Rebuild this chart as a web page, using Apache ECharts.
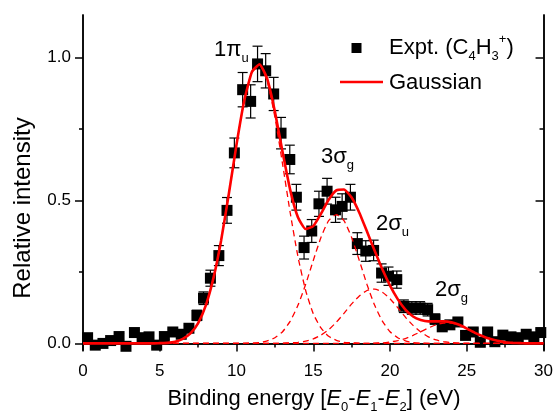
<!DOCTYPE html>
<html><head><meta charset="utf-8">
<script src="https://cdn.jsdelivr.net/npm/echarts@6/dist/echarts.min.js"></script>
<style>html,body{margin:0;padding:0;background:#fff}#c{width:556px;height:412px}</style>
</head><body><div id="c"></div>
<script>
// ---- data ----
const exptX = [0.3,0.8,1.3,1.8,2.35,2.8,3.35,3.85,4.3,4.8,5.3,5.85,6.4,6.9,7.42,7.85,8.3,8.85,9.38,9.86,10.4,10.92,11.37,11.9,12.42,12.9,13.47,13.9,14.4,14.9,15.37,15.9,16.45,16.88,17.42,17.87,18.42,18.93,19.45,19.9,20.44,20.9,21.42,21.96,22.45,22.93,23.4,23.9,24.42,24.92,25.42,25.88,26.36,26.83,27.35,27.88,28.35,28.87,29.37,29.82];
const exptY = [0.02,-0.006,0.0,0.01,0.024,-0.01,0.038,0.02,0.023,-0.006,0.024,0.04,0.032,0.053,0.098,0.158,0.228,0.307,0.465,0.666,0.887,0.846,0.977,0.953,0.872,0.735,0.643,0.511,0.335,0.393,0.488,0.532,0.467,0.479,0.511,0.349,0.323,0.325,0.246,0.235,0.223,0.13,0.124,0.124,0.118,0.085,0.058,0.065,0.075,0.028,0.04,0.004,0.04,0.006,0.029,0.023,0.02,0.032,0.023,0.038];
const exptErr = [0.01,0.01,0.01,0.01,0.01,0.01,0.01,0.01,0.01,0.01,0.01,0.01,0.01,0.01,0.018,0.022,0.028,0.035,0.045,0.052,0.06,0.058,0.062,0.06,0.058,0.055,0.05,0.045,0.04,0.04,0.044,0.045,0.044,0.044,0.045,0.038,0.036,0.036,0.032,0.032,0.03,0.022,0.022,0.022,0.022,0.018,0.012,0.012,0.012,0.012,0.012,0.012,0.012,0.012,0.012,0.012,0.012,0.012,0.012,0.012];

const fitX = [0,0.5,1,1.5,2,2.5,3,3.5,4,4.5,5,5.5,6,6.5,7,7.5,8,8.5,9,9.5,10,10.5,11,11.5,12,12.5,13,13.5,14,14.5,15,15.5,16,16.5,17,17.5,18,18.5,19,19.5,20,20.5,21,21.5,22,22.5,23,23.5,24,24.5,25,25.5,26,26.5,27,27.5,28,28.5,29,29.5,30];
const fitTotal = [0,0,0,0,0,0,0,0,0,0,0.001,0.002,0.006,0.016,0.035,0.071,0.133,0.229,0.361,0.523,0.695,0.848,0.949,0.976,0.925,0.811,0.669,0.536,0.441,0.400,0.410,0.453,0.502,0.535,0.538,0.510,0.457,0.391,0.324,0.259,0.202,0.155,0.118,0.094,0.082,0.077,0.077,0.077,0.074,0.065,0.052,0.038,0.026,0.016,0.009,0.004,0.002,0.001,0,0,0];
const fit1PiU = [0,0,0,0,0,0,0,0,0,0,0.001,0.002,0.006,0.016,0.035,0.071,0.133,0.229,0.361,0.523,0.695,0.848,0.948,0.973,0.916,0.791,0.627,0.456,0.304,0.186,0.104,0.054,0.025,0.011,0.004,0.002,0.001,0,0,0,0,0,0,0,0,0,0,0,0,0,0,0,0,0,0,0,0,0,0,0,0];
const fit3SigG = [0,0,0,0,0,0,0,0,0,0,0,0,0,0,0,0,0,0,0,0,0,0,0.001,0.003,0.009,0.020,0.041,0.078,0.133,0.206,0.290,0.370,0.429,0.450,0.429,0.370,0.290,0.206,0.133,0.078,0.041,0.020,0.009,0.003,0.001,0,0,0,0,0,0,0,0,0,0,0,0,0,0,0,0];
const fit2SigU = [0,0,0,0,0,0,0,0,0,0,0,0,0,0,0,0,0,0,0,0,0,0,0,0,0,0,0.001,0.002,0.004,0.008,0.016,0.029,0.048,0.074,0.105,0.138,0.166,0.185,0.190,0.179,0.156,0.125,0.092,0.063,0.040,0.023,0.012,0.006,0.003,0.001,0,0,0,0,0,0,0,0,0,0,0];
const fit2SigG = [0,0,0,0,0,0,0,0,0,0,0,0,0,0,0,0,0,0,0,0,0,0,0,0,0,0,0,0,0,0,0,0,0,0,0,0,0,0,0.001,0.002,0.005,0.010,0.017,0.028,0.041,0.054,0.065,0.071,0.071,0.064,0.052,0.038,0.026,0.016,0.009,0.004,0.002,0.001,0,0,0];

const xTickValues = [0,5,10,15,20,25,30];
const xTickLabels = ['0','5','10','15','20','25','30'];
const yTickValues = [0,0.5,1.0];
const yTickLabels = ['0.0','0.5','1.0'];
const yMinorTickValues = [0.25,0.75];

// ---- chart ----
const FONT = '"Liberation Sans", Arial, Helvetica, sans-serif';
const chart = echarts.init(document.getElementById('c'), null, {renderer:'canvas'});
const pairs = (xs, ys) => xs.map((x, i) => [x, ys[i]]);
const errData = exptX.map((x, i) => [x, exptY[i], exptErr[i]]);
const YMIN = -0.023, YMAX = 1.148;

const lineAx = {show:true, lineStyle:{color:'#000', width:1.5}};
function xAx(pos, inside) {
  return {type:'value', position:pos, min:0, max:30, interval:5,
    axisLine:lineAx,
    axisTick:{show:true, inside:inside, length:8, lineStyle:{color:'#000', width:1.5}},
    minorTick:{show:true, splitNumber:2, length:4, lineStyle:{color:'#000', width:1.5}},
    splitLine:{show:false}, minorSplitLine:{show:false},
    axisLabel:{show:pos==='bottom', fontSize:17, color:'#000', fontFamily:FONT, margin:13,
      formatter:v => { const k = xTickValues.indexOf(v); return k >= 0 ? xTickLabels[k] : ''; }}
  };
}
function yAx(pos, inside, values, len, labels) {
  return {type:'value', position:pos, min:YMIN, max:YMAX,
    axisLine:lineAx,
    axisTick:{show:true, inside:inside, length:len, customValues:values, lineStyle:{color:'#000', width:1.5}},
    splitLine:{show:false},
    axisLabel:{show:labels, customValues:yTickValues, fontSize:17, color:'#000', fontFamily:FONT, margin:12,
      formatter:v => { const k = yTickValues.findIndex(t => Math.abs(t - v) < 1e-9); return k >= 0 ? yTickLabels[k] : ''; }}
  };
}

const richBase = {
  n:{fontSize:22, lineHeight:30, fontFamily:FONT, fill:'#000'},
  i:{fontSize:22, lineHeight:30, fontFamily:FONT, fontStyle:'italic', fill:'#000'},
  s:{fontSize:13, lineHeight:10, fontFamily:FONT, verticalAlign:'bottom', fill:'#000'},
  p:{fontSize:13, lineHeight:24, fontFamily:FONT, verticalAlign:'top', fill:'#000'}
};
function rtext(x, y, text, align) {
  return {type:'text', x:x, y:y, z:100, style:{text:text, rich:richBase, align:align||'left', textAlign:align||'left', verticalAlign:'top', textVerticalAlign:'top', fill:'#000', font:'22px ' + FONT}};
}

const option = {
  animation:false,
  backgroundColor:'#fff',
  grid:{left:83, right:10, top:15, bottom:62},
  xAxis:[xAx('bottom', false), xAx('top', true)],
  yAxis:[
    yAx('left', false, yTickValues, 8, true),
    yAx('left', false, yMinorTickValues, 4, false),
    yAx('right', true, yTickValues, 8, false),
    yAx('right', true, yMinorTickValues, 4, false)
  ],
  series:[
    {type:'custom', name:'err', data:errData, z:2,
      renderItem:(params, api) => {
        const x = api.value(0), y = api.value(1), e = api.value(2);
        const t = api.coord([x, y + e]), b = api.coord([x, y - e]);
        const hw = 5, st = {stroke:'#000', lineWidth:1.2};
        return {type:'group', children:[
          {type:'line', shape:{x1:t[0], y1:t[1], x2:b[0], y2:b[1]}, style:st},
          {type:'line', shape:{x1:t[0]-hw, y1:t[1], x2:t[0]+hw, y2:t[1]}, style:st},
          {type:'line', shape:{x1:b[0]-hw, y1:b[1], x2:b[0]+hw, y2:b[1]}, style:st}
        ]};
      }},
    {type:'scatter', name:'Expt.', data:pairs(exptX, exptY), symbol:'rect', symbolSize:11, z:3,
      itemStyle:{color:'#000', opacity:1}},
    ...[fit1PiU, fit3SigG, fit2SigU, fit2SigG].map(arr => ({
      type:'line', data:pairs(fitX, arr), symbol:'none', smooth:0.2, z:4,
      lineStyle:{color:'#ff0000', width:1.3, type:[6,4]}})),
    {type:'line', name:'Gaussian', data:pairs(fitX, fitTotal), symbol:'none', smooth:0.15, z:5,
      lineStyle:{color:'#ff0000', width:2.6}}
  ],
  graphic:[
    // legend
    {type:'rect', shape:{x:351.5, y:43, width:10, height:10}, style:{fill:'#000'}, z:100},
    rtext(389, 33, '{n|Expt. (C}{s|4}{n|H}{s|3}{p|+}{n|)}'),
    {type:'line', shape:{x1:340, y1:82, x2:383, y2:82}, style:{stroke:'#ff0000', lineWidth:2.5}, z:100},
    rtext(389, 68, '{n|Gaussian}'),
    // peak labels
    rtext(214, 35, '{n|1π}{s|u}'),
    rtext(321, 142, '{n|3σ}{s|g}'),
    rtext(376, 209, '{n|2σ}{s|u}'),
    rtext(435, 275, '{n|2σ}{s|g}'),
    // axis titles
    rtext(314, 384, '{n|Binding energy [}{i|E}{s|0}{n|-}{i|E}{s|1}{n|-}{i|E}{s|2}{n|] (eV)}', 'center'),
    {type:'text', x:23, y:208, rotation:Math.PI/2, z:100,
      style:{text:'Relative intensity', font:'24px ' + FONT, fill:'#000', align:'center', textAlign:'center', verticalAlign:'middle', textVerticalAlign:'middle'}}
  ]
};
chart.setOption(option);
</script>
</body></html>
